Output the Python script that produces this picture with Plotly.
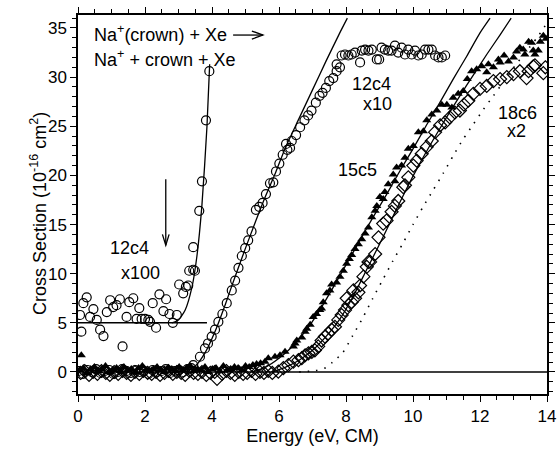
import plotly.graph_objects as go

# ---------------- data ----------------
# 12c4 x100 (threshold region)
c100_x = [0.06, 0.10, 0.16, 0.26, 0.36, 0.46, 0.56, 0.66, 0.76, 0.86, 0.96, 1.05, 1.15, 1.25, 1.33,
          1.45, 1.53, 1.65, 1.75, 1.83, 1.90, 2.00, 2.10, 2.15, 2.23, 2.33, 2.43, 2.55, 2.63, 2.73,
          2.83, 2.95, 3.02, 3.14, 3.22, 3.29, 3.32, 3.44, 3.49, 3.44, 3.62, 3.70, 3.82, 3.92]
c100_y = [5.8, 4.1, 7.0, 7.6, 5.6, 6.4, 5.3, 4.3, 3.65, 6.1, 7.3, 6.6, 6.8, 7.4, 2.6,
          5.6, 7.1, 7.5, 5.4, 6.5, 5.4, 5.4, 5.3, 5.1, 7.0, 4.5, 7.9, 6.2, 7.4, 5.9,
          5.0, 5.8, 8.9, 8.0, 8.65, 8.8, 10.3, 10.4, 10.3, 12.7, 16.4, 19.4, 25.6, 30.6]

# 12c4 x10
c10_x = [0.02, 0.15, 0.28, 0.41, 0.54, 0.67, 0.80, 0.93, 1.06, 1.19, 1.32, 1.45, 1.58, 1.71, 1.84,
         1.97, 2.10, 2.23, 2.36, 2.49, 2.62, 2.75, 2.88, 3.01, 3.14, 3.27, 3.38,
         3.44, 3.64, 3.79, 3.88, 3.99, 4.09, 4.19, 4.31, 4.44, 4.59, 4.69, 4.79, 4.89, 4.99,
         5.08, 5.18, 5.31, 5.41, 5.51, 5.61, 5.73, 5.83, 5.91, 6.01, 6.11, 6.21, 6.25, 6.33,
         6.38, 6.51, 6.63, 6.76, 6.87, 6.97, 7.10, 7.21, 7.30, 7.40, 7.50, 7.62, 7.72, 7.72,
         7.82, 7.87, 7.97, 8.07, 8.17, 8.27, 8.42, 8.47, 8.57, 8.67, 8.77, 8.92, 8.99, 9.06,
         9.16, 9.26, 9.36, 9.46, 9.56, 9.66, 9.76, 9.86, 9.96, 10.06, 10.16, 10.26, 10.36,
         10.46, 10.56, 10.66, 10.76, 10.86, 10.96]
c10_y = [0.1, -0.2, 0.2, 0.0, 0.3, -0.1, 0.1, 0.2, -0.2, 0.0, 0.3, 0.1, -0.1, 0.2, 0.0,
         0.1, -0.2, 0.2, 0.0, 0.1, 0.3, -0.1, 0.1, 0.2, 0.0, 0.3, 0.4,
         0.7, 1.55, 2.4, 2.9, 3.6, 4.3, 5.1, 5.9, 7.0, 8.3, 9.3, 10.6, 11.8, 12.6,
         13.4, 14.3, 16.5, 16.8, 17.2, 18.1, 19.2, 19.3, 20.4, 21.2, 22.1, 23.2, 22.6, 22.8,
         23.5, 24.1, 24.9, 25.6, 26.1, 26.6, 27.4, 28.1, 28.4, 28.9, 29.6, 29.9, 30.6, 31.3,
         31.0, 32.2, 32.3, 32.2, 32.3, 32.5, 31.5, 32.7, 32.8, 32.7, 32.8, 31.8, 31.8, 33.0,
         32.8, 32.7, 32.7, 33.2, 32.5, 33.0, 32.3, 32.8, 32.3, 32.7, 32.2, 32.3, 32.8,
         32.8, 32.8, 32.2, 32.0, 32.0, 32.2]

# 15c5 (filled triangles)
t_x = [0.05, 0.10, 0.16, 0.27, 0.38, 0.49, 0.60, 0.71, 0.82, 0.93, 1.04, 1.15, 1.26, 1.37, 1.48,
       1.59, 1.70, 1.81, 1.92, 2.03, 2.14, 2.25, 2.36, 2.47, 2.58, 2.69, 2.80, 2.91, 3.02, 3.13,
       3.24, 3.35, 3.46, 3.57, 3.68, 3.79, 3.90, 4.01, 4.12, 4.23, 4.34, 4.45, 4.56, 4.67, 4.78,
       4.89, 5.00, 5.11, 5.22, 5.33, 5.45,
       5.58, 5.68, 5.88, 6.03, 6.18, 6.43, 6.48, 6.53, 6.68, 6.78, 6.83, 6.93, 7.02, 7.12, 7.22,
       7.27, 7.32, 7.42, 7.52, 7.57, 7.72, 7.82, 7.92, 8.02, 8.10, 8.17, 8.27, 8.37, 8.47, 8.57,
       8.67, 8.77, 8.87, 8.92, 9.01, 9.11, 9.16, 9.26, 9.41, 9.46, 9.51, 9.66, 9.76, 9.86, 10.01,
       10.16, 10.31, 10.41, 10.56, 10.71, 10.86, 11.01, 11.16, 11.20, 11.35, 11.50, 11.62, 11.75,
       11.90, 12.05, 12.20, 12.25, 12.40, 12.55, 12.60, 12.72, 12.85, 13.00, 13.09, 13.19, 13.29,
       13.34, 13.45, 13.54, 13.59, 13.64, 13.74, 13.80, 13.89, 13.97]
t_y = [0.2, 1.7, 0.4, -0.1, 0.3, 0.5, 0.1, 0.3, 0.6, 0.0, 0.2, 0.4, 0.1, 0.5, 0.2,
       0.3, 0.0, 0.4, 0.6, 0.2, 0.1, 0.3, 0.5, 0.2, 0.0, 0.4, 0.3, 0.1, 0.5, 0.2,
       0.4, 0.6, 0.1, 0.3, 0.2, 0.5, 0.0, 0.3, 0.4, 0.1, 0.6, 0.2, 0.3, 0.5, 0.4,
       0.2, 0.6, 0.5, 0.7, 0.8, 0.9,
       1.05, 1.4, 1.55, 1.7, 2.05, 2.6, 2.9, 3.2, 3.5, 4.1, 4.4, 4.8, 5.6, 5.9, 6.3,
       6.45, 7.1, 8.0, 8.3, 8.9, 9.1, 9.7, 10.3, 11.0, 11.5, 11.9, 12.5, 13.0, 13.5, 14.1,
       14.7, 15.75, 16.4, 16.9, 17.8, 17.6, 18.3, 19.1, 20.1, 19.4, 20.8, 21.0, 21.8, 22.7, 23.0,
       24.4, 24.5, 25.6, 26.2, 26.6, 27.2, 27.2, 26.9, 27.9, 28.3, 28.6, 29.8, 30.6,
       30.8, 31.1, 30.5, 31.3, 31.0, 31.8, 31.5, 32.2, 31.6, 32.0, 32.6, 33.0, 32.8,
       32.3, 33.6, 33.5, 32.7, 32.3, 32.7, 33.6, 34.2, 33.9]

# 18c6 (open diamonds)
d_x = [0.08, 0.20, 0.33, 0.45, 0.58, 0.70, 0.83, 0.95, 1.08, 1.20, 1.33, 1.45, 1.58, 1.70, 1.83,
       1.95, 2.08, 2.20, 2.33, 2.45, 2.58, 2.70, 2.83, 2.95, 3.08, 3.20, 3.33, 3.45, 3.58, 3.70,
       3.83, 3.95, 4.08, 4.15, 4.30, 4.43, 4.55, 4.68, 4.80, 4.93, 5.05, 5.18, 5.30, 5.43, 5.55,
       5.68, 5.80,
       5.98, 6.13, 6.28, 6.43, 6.58, 6.68, 6.78, 6.88, 6.98, 7.07, 7.17, 7.27, 7.37, 7.47, 7.57,
       7.67, 7.77, 7.87, 7.97, 8.02, 8.07, 8.17, 8.22, 8.27, 8.37, 8.42, 8.52, 8.62, 8.67, 8.72,
       8.87, 8.97, 9.11, 9.21, 9.36, 9.46, 9.56, 9.71, 9.76, 9.86, 10.01, 10.11, 10.26, 10.41,
       10.56, 10.66, 10.81, 10.96, 11.10, 11.25, 11.40, 11.52, 11.65, 11.80, 12.00, 12.20, 12.40,
       12.60, 12.80, 13.00, 13.19, 13.39, 13.45, 13.59, 13.64, 13.89, 13.95]
d_y = [-0.1, 0.1, -0.3, 0.0, -0.2, 0.1, -0.1, -0.3, 0.0, -0.2, 0.1, -0.1, -0.3, 0.0, -0.2,
       0.1, -0.1, -0.2, 0.0, -0.3, -0.1, 0.1, -0.2, 0.0, -0.1, -0.3, 0.1, -0.1, -0.2, 0.0,
       -0.3, -0.1, 0.0, -0.7, -0.2, 0.1, -0.1, -0.3, 0.0, -0.2, -0.1, 0.1, -0.2, 0.0, -0.1,
       0.1, -0.1,
       0.03, 0.4, 0.7, 1.05, 1.2, 1.4, 1.7, 1.9, 2.05, 2.2, 2.6, 3.2, 3.6, 3.9, 4.3,
       4.6, 5.3, 5.8, 6.3, 7.5, 6.8, 7.1, 8.3, 7.5, 8.1, 8.8, 9.7, 10.7, 11.2, 11.2,
       12.0, 13.7, 15.1, 15.4, 16.3, 16.9, 17.4, 18.8, 19.0, 19.8, 21.0, 21.5, 22.2, 22.9,
       23.5, 24.4, 25.1, 25.4, 25.9, 26.4, 26.6, 27.2, 27.6, 28.3, 28.8, 29.1, 29.6,
       29.8, 30.0, 30.3, 30.6, 29.9, 30.6, 31.1, 31.2, 30.4, 31.0]

# fitted model curves
fit100_base_x = [0.0, 3.85]
fit100_base_y = [5.0, 5.0]
fit100_x = [2.8, 3.0, 3.2, 3.4, 3.55, 3.7, 3.85, 3.93]
fit100_y = [5.0, 5.3, 6.3, 8.6, 11.8, 17.0, 25.0, 31.3]

fit10_x = [3.2, 3.5, 3.8, 4.1, 4.4, 4.7, 5.0, 5.3, 5.6, 5.9, 6.2, 6.6, 7.0, 7.4, 7.8, 8.04]
fit10_y = [0.0, 0.6, 2.0, 4.2, 6.9, 9.8, 12.6, 15.3, 17.9, 20.3, 22.9, 25.8, 28.7, 31.6, 34.4, 36.0]

fit15_x = [5.2, 5.6, 6.0, 6.4, 6.8, 7.2, 7.6, 8.0, 8.4, 8.8, 9.2, 9.6, 10.0, 10.4, 10.8, 11.2, 11.6, 12.0, 12.3]
fit15_y = [0.0, 0.5, 1.4, 2.6, 4.2, 6.2, 8.5, 10.9, 13.3, 15.7, 18.0, 20.4, 22.7, 25.1, 27.4, 29.8, 32.1, 34.5, 36.0]

fit18_x = [5.8, 6.2, 6.6, 7.0, 7.4, 7.8, 8.2, 8.6, 9.0, 9.4, 9.8, 10.2, 10.6, 11.0, 11.4, 11.8, 12.2, 12.6, 12.93]
fit18_y = [0.0, 0.5, 1.2, 2.2, 3.6, 5.3, 7.6, 10.3, 13.0, 15.8, 18.6, 21.2, 23.6, 25.9, 28.1, 30.2, 32.3, 34.3, 36.0]

dot_x = [6.6, 7.1, 7.4, 7.6, 7.9, 8.2, 8.5, 8.8, 9.1, 9.4, 9.7, 10.0, 10.3, 10.6, 10.9, 11.2,
         11.5, 11.8, 12.1, 12.4, 12.8, 13.1, 13.4, 13.7, 14.0]
dot_y = [0.0, 0.15, 0.45, 1.0, 1.95, 3.7, 5.5, 7.5, 9.4, 11.3, 13.1, 15.0, 16.8, 18.5, 20.2, 22.0,
         23.7, 25.2, 26.7, 28.1, 30.0, 31.4, 32.7, 34.0, 35.5]

zero_x = [0.0, 14.0]
zero_y = [0.0, 0.0]

FONT = "Liberation Sans, Arial, sans-serif"

fig = go.Figure()

def line(x, y, dash="solid", width=1.3, shape="spline"):
    fig.add_trace(go.Scatter(x=x, y=y, mode="lines", showlegend=False, hoverinfo="skip",
                             line=dict(color="black", width=width, dash=dash, shape=shape,
                                       smoothing=0.6 if shape == "spline" else None)))

line(zero_x, zero_y, width=1.5, shape="linear")
line(fit100_base_x, fit100_base_y, width=1.5, shape="linear")

fig.add_trace(go.Scatter(x=c100_x, y=c100_y, mode="markers", showlegend=False,
                         marker=dict(symbol="circle-open", size=9, color="black", line=dict(width=1.2))))
fig.add_trace(go.Scatter(x=c10_x, y=c10_y, mode="markers", showlegend=False,
                         marker=dict(symbol="circle-open", size=9, color="black", line=dict(width=1.2))))
fig.add_trace(go.Scatter(x=d_x, y=d_y, mode="markers", showlegend=False,
                         marker=dict(symbol="diamond-open", size=10, color="black", line=dict(width=1.2))))
fig.add_trace(go.Scatter(x=t_x, y=t_y, mode="markers", showlegend=False,
                         marker=dict(symbol="triangle-up", size=8, color="black", line=dict(width=0))))

line(fit100_x, fit100_y)
line(fit10_x, fit10_y)
line(fit15_x, fit15_y)
line(fit18_x, fit18_y)
line(dot_x, dot_y, dash="1.5px,7px", width=1.6)

# arrows (open heads)
arrow_shapes = [
    dict(type="line", x0=4.63, y0=34.28, x1=5.52, y1=34.28),
    dict(type="path", path="M 5.19 34.69 L 5.52 34.28 L 5.19 33.87"),
    dict(type="line", x0=2.62, y0=19.6, x1=2.62, y1=12.9),
    dict(type="path", path="M 2.52 14.0 L 2.62 12.9 L 2.72 14.0"),
]
for s in arrow_shapes:
    s.update(xref="x", yref="y", line=dict(color="black", width=1.3))
    fig.add_shape(**s)

labels = [
    ("Na<sup>+</sup>(crown) + Xe", 0.42, 34.4, "left"),
    ("Na<sup>+</sup> + crown + Xe", 0.42, 31.9, "left"),
    ("12c4", 1.55, 12.6, "center"),
    ("x100", 1.88, 10.1, "center"),
    ("12c4", 8.75, 29.3, "center"),
    ("x10", 8.93, 27.3, "center"),
    ("15c5", 8.33, 20.6, "center"),
    ("18c6", 13.12, 26.3, "center"),
    ("x2", 13.1, 24.5, "center"),
]
for txt, x, y, anc in labels:
    fig.add_annotation(x=x, y=y, text=txt, showarrow=False, xanchor=anc, yanchor="middle",
                       font=dict(family=FONT, size=18, color="black"))

# y-axis title (placed as rotated text to match reference position)
fig.add_annotation(xref="paper", yref="paper", x=-0.083, y=0.475, textangle=-90,
                   text="Cross Section (10<sup>-16</sup> cm<sup>2</sup>)", showarrow=False,
                   xanchor="center", yanchor="middle",
                   font=dict(family=FONT, size=18, color="black"))

axis_common = dict(showline=True, linecolor="black", linewidth=1.5, mirror="allticks",
                   ticks="outside", ticklen=6, tickwidth=1.3, tickcolor="black",
                   showgrid=False, zeroline=False, automargin=False,
                   tickfont=dict(family=FONT, size=17, color="black"))

fig.update_xaxes(range=[0, 14], dtick=2, tick0=0,
                 minor=dict(dtick=0.5, ticklen=4, ticks="outside", tickcolor="black", tickwidth=1),
                 title=dict(text="Energy (eV, CM)", font=dict(family=FONT, size=18, color="black"),
                            standoff=4),
                 **axis_common)
fig.update_yaxes(range=[-2.24, 36.32], dtick=5, tick0=0,
                 minor=dict(dtick=1, ticklen=4, ticks="outside", tickcolor="black", tickwidth=1),
                 **axis_common)

fig.update_layout(width=558, height=450, margin=dict(l=78, r=11, t=15, b=56),
                  plot_bgcolor="white", paper_bgcolor="white", showlegend=False)

fig.write_html("out.html", config={"displayModeBar": False},
               post_script="document.body.style.margin='0';document.body.style.overflow='hidden';")
